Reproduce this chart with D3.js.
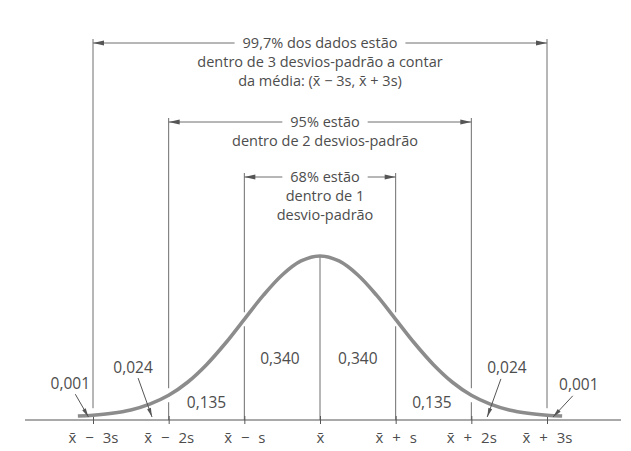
<!DOCTYPE html>
<html>
<head>
<meta charset="utf-8">
<script src="https://cdn.jsdelivr.net/npm/d3@7"></script>
<style>
  html, body { margin: 0; padding: 0; background: #fff; }
  svg { display: block; }
  text { font-family: "Open Sans", sans-serif; fill: #4d4d4d; }
</style>
</head>
<body>
<svg id="chart" width="631" height="451"></svg>
<script>
// Bell curve heights (fraction of the peak) along the axis, in standard-deviation units
const curveZ = [-3.2, -3, -2.75, -2.5, -2.25, -2, -1.75, -1.5, -1.25, -1, -0.75, -0.5, -0.25, 0,
                0.25, 0.5, 0.75, 1, 1.25, 1.5, 1.75, 2, 2.25, 2.5, 2.75, 3, 3.2];
const curveH = [0.006, 0.011, 0.023, 0.044, 0.080, 0.135, 0.216, 0.325, 0.458, 0.607, 0.755, 0.882, 0.969, 1,
                0.969, 0.882, 0.755, 0.607, 0.458, 0.325, 0.216, 0.135, 0.080, 0.044, 0.023, 0.011, 0.006];

// Axis ticks at the mean and 1, 2, 3 standard deviations either side
const tickZ = [-3, -2, -1, 0, 1, 2, 3];
const tickLabels = ["x\u0304 \u2212 3s", "x\u0304 \u2212 2s", "x\u0304 \u2212 s", "x\u0304",
                    "x\u0304 + s", "x\u0304 + 2s", "x\u0304 + 3s"];

// Share of the data in each band between consecutive ticks (plus the two outer tails)
const regionProbs = [0.001, 0.024, 0.135, 0.340, 0.340, 0.135, 0.024, 0.001];

// Range brackets: number of standard deviations and their captions
const bracketK = [3, 2, 1];
const bracketText = [
  ["99,7% dos dados estão", "dentro de 3 desvios-padrão a contar", "da média: (x\u0304 \u2212 3s, x\u0304 + 3s)"],
  ["95% estão", "dentro de 2 desvios-padrão"],
  ["68% estão", "dentro de 1", "desvio-padrão"]
];

const svg = d3.select("#chart");
const ink = "#4d4d4d", rule = "#6e6e6e", curveColor = "#8c8c8c";

const x = d3.scaleLinear().domain([-3, 3]).range([93, 547]);
const y = d3.scaleLinear().domain([0, 1]).range([417, 256]);
const axisY = 420;
const heightAt = z => curveH[curveZ.indexOf(z)];

const ptFmt = d3.formatLocale({ decimal: ",", thousands: ".", grouping: [3], currency: ["", ""] }).format(".3f");

// Bracket layout: y of the horizontal rule and the caption's horizontal offset
const bracketLayout = { 3: { y: 43, dx: 0 }, 2: { y: 122, dx: 5 }, 1: { y: 177, dx: 5 } };
const lineGap = 18.8;

// Vertical guide lines, broken where they cross the curve
const gapHalf = 7;
tickZ.forEach(z => {
  const cy = y(heightAt(z));
  if (z === 0) {
    svg.append("line").attr("x1", x(z)).attr("x2", x(z)).attr("y1", cy).attr("y2", axisY)
      .attr("stroke", rule).attr("stroke-width", 1);
    return;
  }
  const top = bracketLayout[Math.abs(z)].y - 4;
  svg.append("line").attr("x1", x(z)).attr("x2", x(z)).attr("y1", top).attr("y2", cy - gapHalf)
    .attr("stroke", rule).attr("stroke-width", 1);
  if (cy + gapHalf < axisY) {
    svg.append("line").attr("x1", x(z)).attr("x2", x(z)).attr("y1", cy + gapHalf).attr("y2", axisY)
      .attr("stroke", rule).attr("stroke-width", 1);
  }
});

// Horizontal axis line spanning the page
svg.append("line").attr("x1", 25).attr("x2", 621).attr("y1", axisY).attr("y2", axisY)
  .attr("stroke", "#555").attr("stroke-width", 1.2);

// Tick marks and labels
const axis = d3.axisBottom(x).tickValues(tickZ).tickFormat((d, i) => tickLabels[i])
  .tickSizeInner(4).tickSizeOuter(0).tickPadding(8);
const gAxis = svg.append("g").attr("transform", `translate(0,${axisY})`).call(axis);
gAxis.select(".domain").remove();
gAxis.selectAll(".tick line").attr("y1", -4).attr("y2", 4).attr("stroke", "#555");
gAxis.selectAll(".tick text")
  .style("font-family", "'Open Sans', sans-serif").style("font-size", "15px")
  .attr("fill", ink).style("word-spacing", "5px");

// The bell curve
const line = d3.line()
  .x(d => x(d[0])).y(d => y(d[1]))
  .curve(d3.curveCatmullRom.alpha(0.5));
svg.append("path").datum(curveZ.map((z, i) => [z, curveH[i]]))
  .attr("d", line).attr("fill", "none")
  .attr("stroke", curveColor).attr("stroke-width", 3.6).attr("stroke-linecap", "butt");

// Arrowhead helper: narrow filled triangle with its tip at (tx, ty), pointing along angle a
function arrowHead(tx, ty, a, len = 11, half = 2.4) {
  const bx = tx - len * Math.cos(a), by = ty - len * Math.sin(a);
  const px = -Math.sin(a) * half, py = Math.cos(a) * half;
  svg.append("path")
    .attr("d", `M${tx},${ty}L${bx + px},${by + py}L${bx - px},${by - py}Z`)
    .attr("fill", "#555");
}

// Range brackets with captions
bracketK.forEach((k, bi) => {
  const L = bracketLayout[k];
  const cx = x(0) + L.dx;
  const g = svg.append("g");
  const texts = bracketText[bi].map((s, li) =>
    g.append("text").attr("x", cx).attr("y", L.y + li * lineGap).attr("dy", "0.35em")
      .attr("text-anchor", "middle").style("font-size", "14.5px").text(s));
  const w = texts[0].node().getComputedTextLength();
  const gap = 8;
  const xl = x(-k), xr = x(k);
  g.append("line").attr("x1", xl).attr("x2", cx - w / 2 - gap).attr("y1", L.y).attr("y2", L.y)
    .attr("stroke", rule).attr("stroke-width", 1);
  g.append("line").attr("x1", cx + w / 2 + gap).attr("x2", xr).attr("y1", L.y).attr("y2", L.y)
    .attr("stroke", rule).attr("stroke-width", 1);
  arrowHead(xl, L.y, Math.PI);
  arrowHead(xr, L.y, 0);
});

// Band probability labels: centre position (z, height fraction) for each band
const labelLayout = [
  { z: -3.3, h: 0.21 }, { z: -2.47, h: 0.31 }, { z: -1.5, h: 0.09 }, { z: -0.53, h: 0.365 },
  { z: 0.5, h: 0.365 }, { z: 1.48, h: 0.09 }, { z: 2.47, h: 0.305 }, { z: 3.42, h: 0.2 }
];
regionProbs.forEach((p, i) => {
  const L = labelLayout[i];
  svg.append("text").attr("x", x(L.z)).attr("y", y(L.h)).attr("dy", "0.35em")
    .attr("text-anchor", "middle").style("font-size", "15.5px").text(ptFmt(p));
});

// Leader arrows from the tail labels down to their bands
const leaders = [
  { from: 0, tz: -3.06 }, { from: 1, tz: -2.22 }, { from: 6, tz: 2.21 }, { from: 7, tz: 3.08 }
];
leaders.forEach(d => {
  const L = labelLayout[d.from];
  const sx = x(L.z) + (L.z < 0 ? 5 : -6), sy = y(L.h) + 11;
  const tx = x(d.tz), ty = y(0.0);
  svg.append("line").attr("x1", sx).attr("y1", sy).attr("x2", tx).attr("y2", ty)
    .attr("stroke", "#555").attr("stroke-width", 1);
  arrowHead(tx, ty, Math.atan2(ty - sy, tx - sx), 9, 2);
});
</script>
</body>
</html>
